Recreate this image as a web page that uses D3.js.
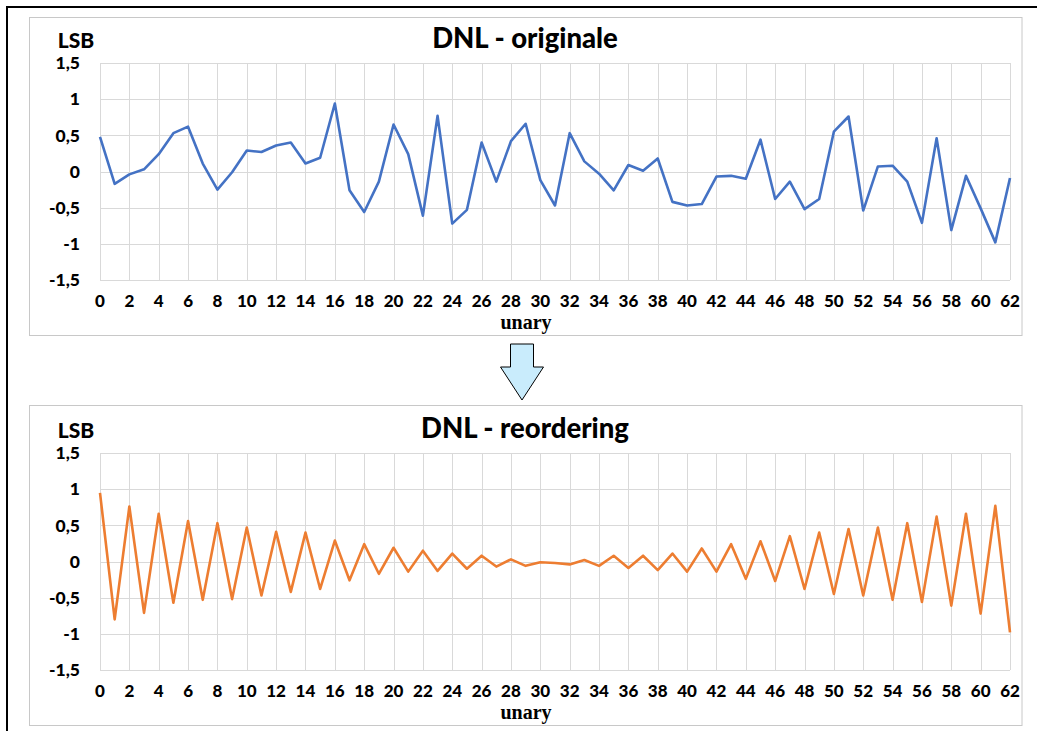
<!DOCTYPE html>
<html>
<head>
<meta charset="utf-8">
<style>
  body { margin: 0; background: #fff; }
  svg text { font-family: Lato, "Noto Sans", sans-serif; font-weight: 900; fill: #000; }
  .xlabel { font-family: "Liberation Serif", "DejaVu Serif", serif !important; font-weight: bold !important; }
</style>
<script src="https://d3js.org/d3.v7.min.js"></script>
</head>
<body>
<svg id="chart" width="1037" height="731"></svg>
<script>
// unary index 0..62
var unary = d3.range(0, 63);
var xTicks = d3.range(0, 63, 2);
var yTicks = [-1.5, -1, -0.5, 0, 0.5, 1, 1.5];
var yTickLabels = ["-1,5", "-1", "-0,5", "0", "0,5", "1", "1,5"];

var dnlOriginale = [0.48, -0.17, -0.04, 0.03, 0.24, 0.53, 0.62, 0.11, -0.25, -0.01,
  0.29, 0.27, 0.36, 0.40, 0.11, 0.19, 0.94, -0.26, -0.56, -0.14,
  0.65, 0.24, -0.61, 0.77, -0.72, -0.53, 0.40, -0.14, 0.42, 0.66,
  -0.12, -0.47, 0.53, 0.14, -0.03, -0.26, 0.09, 0.01, 0.18, -0.42,
  -0.47, -0.45, -0.07, -0.06, -0.10, 0.44, -0.38, -0.14, -0.52, -0.38,
  0.55, 0.76, -0.54, 0.07, 0.08, -0.14, -0.71, 0.46, -0.81, -0.06,
  -0.51, -0.98, -0.09];

var dnlReordering = [0.95, -0.80, 0.76, -0.71, 0.66, -0.57, 0.56, -0.53, 0.53, -0.52,
  0.47, -0.47, 0.41, -0.42, 0.40, -0.38, 0.29, -0.26, 0.24, -0.17,
  0.19, -0.14, 0.15, -0.13, 0.11, -0.10, 0.08, -0.07, 0.03, -0.06,
  -0.01, -0.02, -0.04, 0.02, -0.06, 0.08, -0.09, 0.08, -0.12, 0.11,
  -0.14, 0.18, -0.14, 0.24, -0.24, 0.28, -0.27, 0.35, -0.38, 0.40,
  -0.45, 0.45, -0.47, 0.47, -0.53, 0.53, -0.56, 0.62, -0.61, 0.66,
  -0.72, 0.77, -0.98];

var svg = d3.select("#chart");

// outer frame (top + left)
svg.append("line").attr("x1", 7).attr("x2", 1037).attr("y1", 7).attr("y2", 7)
  .attr("stroke", "#000").attr("stroke-width", 2);
svg.append("line").attr("x1", 7).attr("x2", 7).attr("y1", 6).attr("y2", 731)
  .attr("stroke", "#000").attr("stroke-width", 2);

var x = d3.scaleLinear().domain([0, 62]).range([100, 1010]);

function drawPanel(top, box, title, values, color) {
  var g = svg.append("g");
  var y = d3.scaleLinear().domain([-1.5, 1.5]).range([top + 217, top]);

  g.append("rect").attr("x", 29.5).attr("y", box[0]).attr("width", 992.5)
    .attr("height", box[1] - box[0]).attr("fill", "#fff").attr("stroke", "#c8c8c8");

  // grid
  g.selectAll(".hg").data(yTicks).enter().append("line")
    .attr("x1", x(0)).attr("x2", x(62))
    .attr("y1", function(d) { return Math.round(y(d)) + 0.5; })
    .attr("y2", function(d) { return Math.round(y(d)) + 0.5; })
    .attr("stroke", "#d9d9d9");
  g.selectAll(".vg").data(xTicks).enter().append("line")
    .attr("x1", function(d) { return Math.round(x(d)) + 0.5; })
    .attr("x2", function(d) { return Math.round(x(d)) + 0.5; })
    .attr("y1", y(1.5)).attr("y2", y(-1.5))
    .attr("stroke", "#d9d9d9");

  // y tick labels
  g.selectAll(".yl").data(yTicks).enter().append("text")
    .attr("x", 80).attr("y", function(d) { return y(d); })
    .attr("dy", "0.36em").attr("text-anchor", "end")
    .style("font-size", "17.5px")
    .text(function(d, i) { return yTickLabels[i]; });

  // x tick labels
  g.selectAll(".xl").data(xTicks).enter().append("text")
    .attr("x", function(d) { return x(d); }).attr("y", top + 244)
    .attr("text-anchor", "middle").style("font-size", "17px")
    .text(function(d) { return d; });

  g.append("text").attr("class", "xlabel").attr("x", 526).attr("y", top + 266)
    .attr("text-anchor", "middle").style("font-size", "20px").text("unary");

  g.append("text").attr("x", 76).attr("y", top - 15)
    .attr("text-anchor", "middle").style("font-size", "21px").text("LSB");

  g.append("text").attr("x", 525).attr("y", top - 15)
    .attr("text-anchor", "middle").style("font-size", "27.5px").text(title);

  var line = d3.line()
    .x(function(d, i) { return x(unary[i]); })
    .y(function(d) { return y(d); });

  g.append("path").datum(values).attr("d", line)
    .attr("fill", "none").attr("stroke", color)
    .attr("stroke-width", 2.6).attr("stroke-linejoin", "round");
}

drawPanel(63, [17.5, 335.5], "DNL - originale", dnlOriginale, "#4472C4");
drawPanel(453, [405.5, 725.5], "DNL - reordering", dnlReordering, "#ED7D31");

// arrow between panels
svg.append("polygon")
  .attr("points", "510.5,344 533.5,344 533.5,367 543.5,367 522,400 500.5,367 510.5,367")
  .attr("fill", "#c9ecfc").attr("stroke", "#000").attr("stroke-width", 1);
</script>
</body>
</html>
